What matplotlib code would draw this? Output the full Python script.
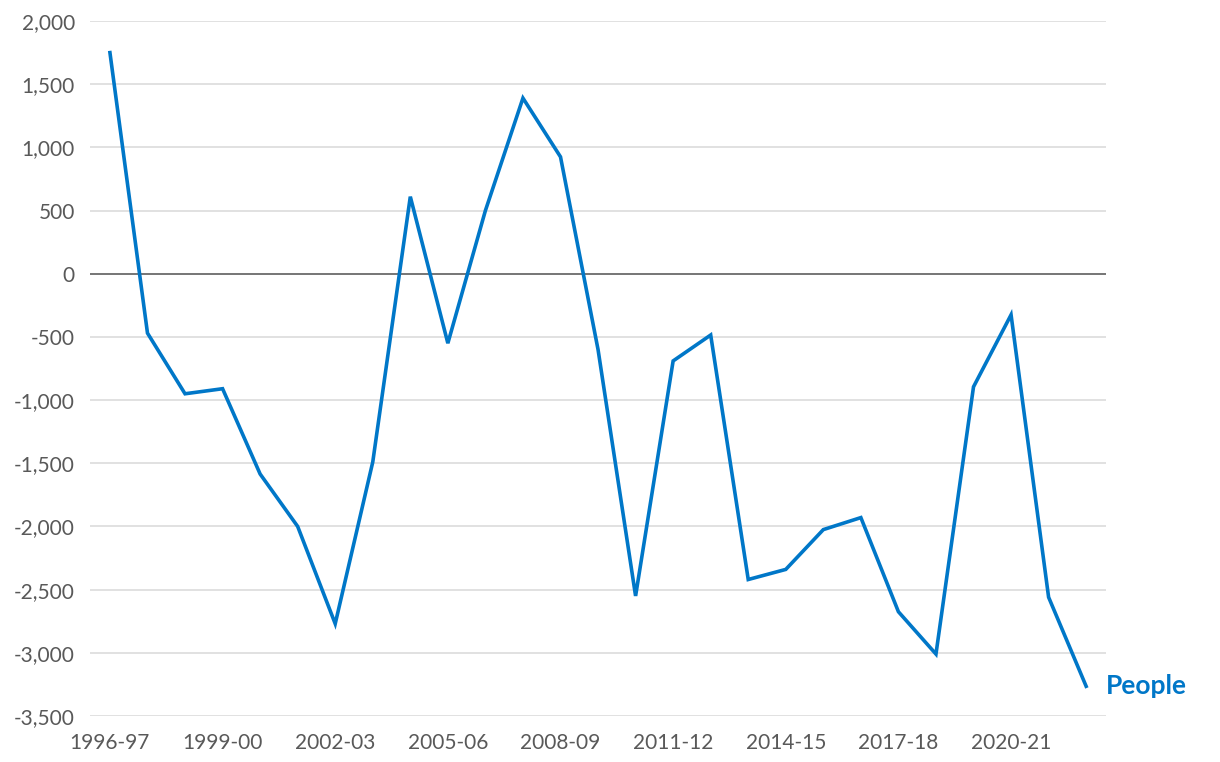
import matplotlib
matplotlib.use("Agg")
import matplotlib.pyplot as plt
from matplotlib.ticker import FuncFormatter

# financial years and net change in people
years = ["1996-97", "1997-98", "1998-99", "1999-00", "2000-01", "2001-02",
         "2002-03", "2003-04", "2004-05", "2005-06", "2006-07", "2007-08",
         "2008-09", "2009-10", "2010-11", "2011-12", "2012-13", "2013-14",
         "2014-15", "2015-16", "2016-17", "2017-18", "2018-19", "2019-20",
         "2020-21", "2021-22", "2022-23"]
people = [1750, -470, -950, -910, -1585, -2000, -2770, -1490, 610, -550,
          500, 1390, 925, -600, -2550, -690, -485, -2420, -2340, -2025,
          -1930, -2675, -3010, -895, -325, -2560, -3265]

blue = "#0077c8"
grey = "#595959"
plt.rcParams['font.family'] = ['Lato', 'DejaVu Sans']

fig = plt.figure(figsize=(12.2, 7.62), dpi=100)
ax = fig.add_axes([0.0738, 0.0604, 0.8328, 0.912])

x = list(range(len(years)))
ax.plot(x, people, color=blue, lw=2.6, solid_joinstyle='miter', zorder=3)
ax.axhline(0, color=grey, lw=1.1, zorder=2)

ax.set_ylim(-3500, 2000)
ax.set_xlim(-0.53, len(years) - 1 + 0.53)
ax.set_yticks(range(-3500, 2001, 500))
ax.yaxis.set_major_formatter(FuncFormatter(lambda v, p: f"{int(v):,}"))
ax.set_xticks(x[::3])
ax.set_xticklabels(years[::3])
ax.grid(axis='y', color='#d9d9d9', lw=1.1, zorder=1)
ax.set_axisbelow(True)
for s in ax.spines.values():
    s.set_visible(False)
ax.tick_params(axis='both', length=0, labelsize=15, labelcolor=grey)
ax.tick_params(axis='y', pad=11)
ax.tick_params(axis='x', pad=12)

ax.annotate("People", xy=(x[-1], people[-1]), xytext=(14, 0),
            textcoords='offset points', color=blue, fontsize=19,
            fontweight='bold', va='center', ha='left', annotation_clip=False)

fig.savefig("out.png", dpi=100)
